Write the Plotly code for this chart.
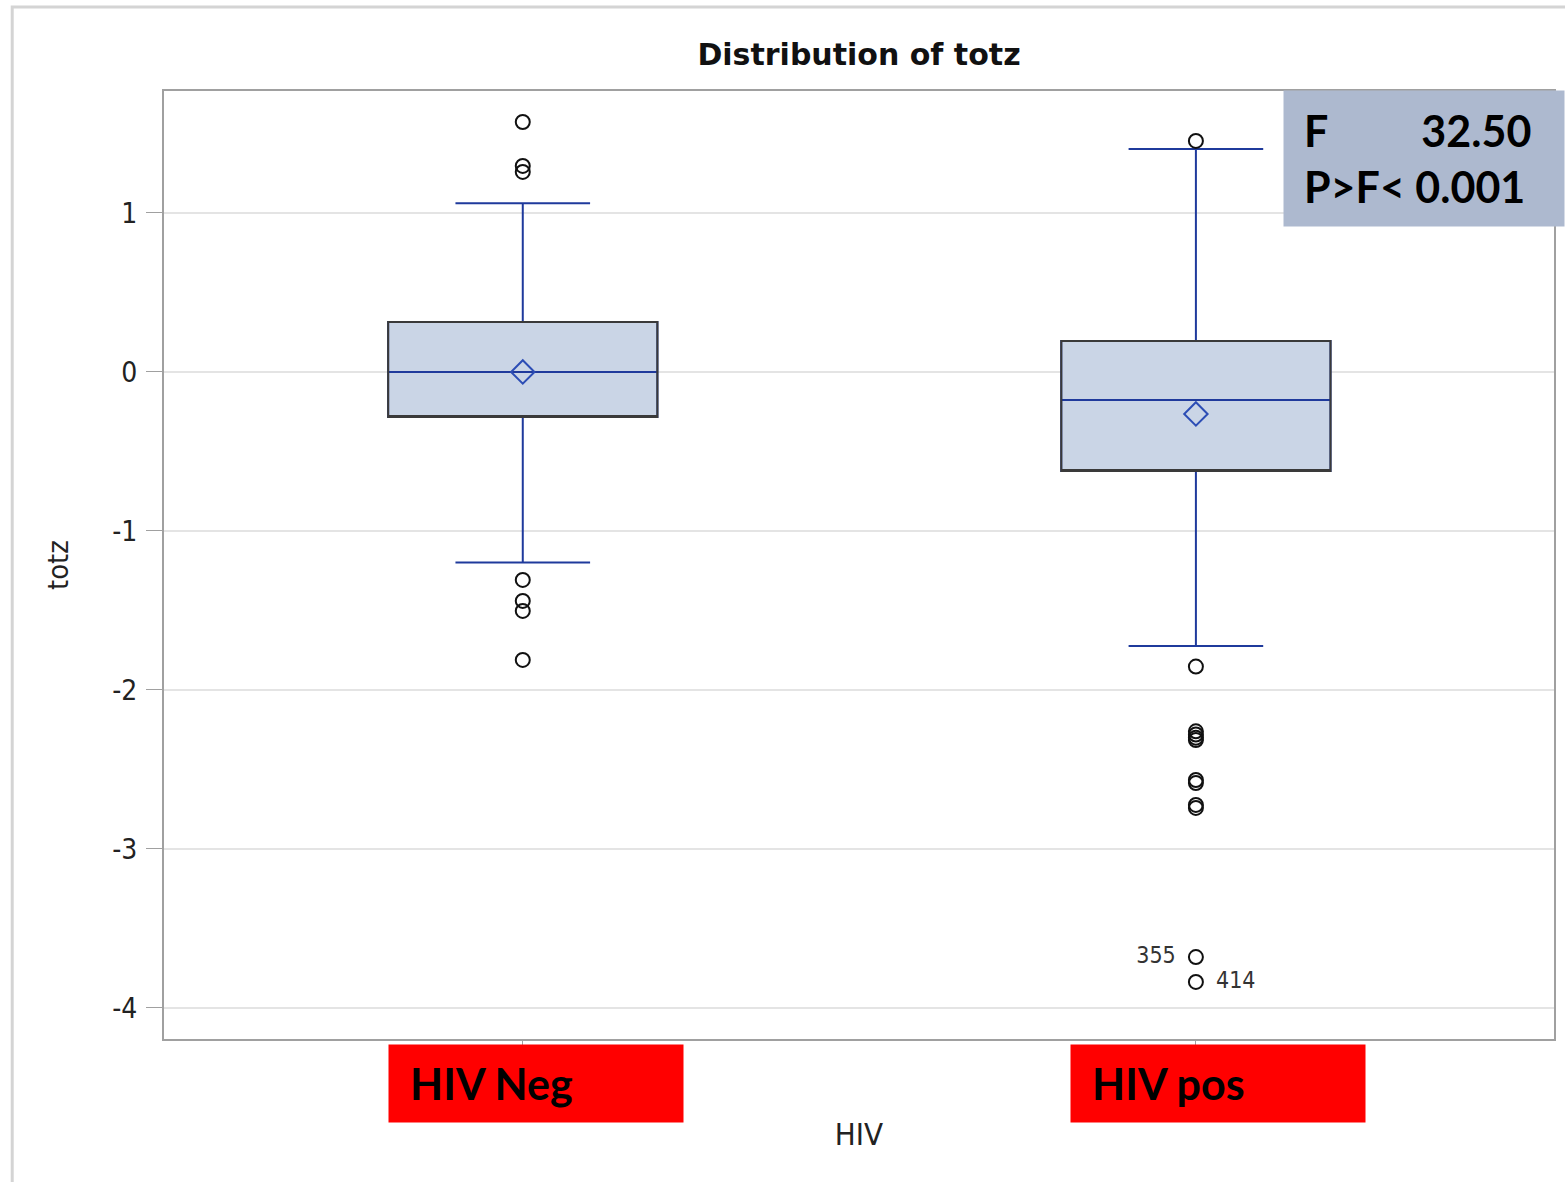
import plotly.graph_objects as go

# Summary statistics of totz by HIV status
groups = ["HIV Neg", "HIV pos"]
group_pos = [0, 1]
q1 = [-0.283, -0.623]
median = [0.0, -0.176]
q3 = [0.314, 0.195]
lower_whisker = [-1.199, -1.723]
upper_whisker = [1.061, 1.403]
means = [0.0, -0.264]

# Outlying observations
neg_outliers = [1.572, 1.296, 1.258, -1.308, -1.44, -1.503, -1.811]
pos_outliers = [1.453, -1.853, -2.26, -2.28, -2.30, -2.315, -2.566, -2.585, -2.723, -2.742]
pos_labelled = [-3.68, -3.836]
pos_labelled_ids = ["355\u2002", "\u2002414"]

# Model test result
f_value = "32.50"
p_text = "P&gt;F&lt; 0.001"

BLUE = "#1F3A9C"
FILL = "#CAD5E6"
BOX_W = 0.40
AXIS_FONT = "Liberation Sans Narrow, DejaVu Sans Condensed, Liberation Sans, Arial"

fig = go.Figure()

# Box with whiskers and median (blue)
fig.add_trace(go.Box(
    x=group_pos, q1=q1, median=median, q3=q3,
    lowerfence=lower_whisker, upperfence=upper_whisker,
    width=BOX_W, whiskerwidth=0.5,
    fillcolor=FILL, line=dict(color=BLUE, width=2),
    boxpoints=False, hoverinfo="skip", showlegend=False,
))
# Dark outline of the interquartile box
fig.add_trace(go.Box(
    x=group_pos, q1=q1, median=q1, q3=q3,
    lowerfence=q1, upperfence=q3,
    width=BOX_W, whiskerwidth=0,
    fillcolor="rgba(0,0,0,0)", line=dict(color="#3A3A3A", width=2),
    boxpoints=False, hoverinfo="skip", showlegend=False,
))

# Mean markers
fig.add_trace(go.Scatter(
    x=group_pos, y=means, mode="markers",
    marker=dict(symbol="diamond-open", size=18, color="#2C4DB5", line=dict(width=2)),
    showlegend=False, hoverinfo="skip",
))

outlier_marker = dict(symbol="circle-open", size=14, color="#111111", line=dict(width=2))
fig.add_trace(go.Scatter(
    x=[group_pos[0]] * len(neg_outliers), y=neg_outliers, mode="markers",
    marker=outlier_marker, showlegend=False, hoverinfo="skip",
))
fig.add_trace(go.Scatter(
    x=[group_pos[1]] * len(pos_outliers), y=pos_outliers, mode="markers",
    marker=outlier_marker, showlegend=False, hoverinfo="skip",
))
fig.add_trace(go.Scatter(
    x=[group_pos[1]] * len(pos_labelled), y=pos_labelled, mode="markers+text",
    text=pos_labelled_ids, textposition=["middle left", "middle right"],
    textfont=dict(family=AXIS_FONT, size=23, color="#333333"),
    marker=outlier_marker, showlegend=False, hoverinfo="skip",
))

fig.update_layout(
    width=1565, height=1182,
    margin=dict(l=164, r=9, t=91, b=143),
    paper_bgcolor="white", plot_bgcolor="white",
    boxmode="overlay",
    font=dict(family=AXIS_FONT, color="#111111"),
    title=dict(
        text="<b>Distribution of totz</b>",
        x=0.5489, xanchor="center", y=1 - 54 / 1182, yanchor="middle",
        font=dict(family="DejaVu Sans", size=30, color="#111111"),
    ),
    xaxis=dict(
        range=[-0.533, 1.532], tickvals=group_pos, ticktext=["", ""],
        ticks="outside", ticklen=6, tickcolor="#A0A0A0",
        showgrid=False, zeroline=False,
        showline=True, mirror=True, linecolor="#A0A0A0", linewidth=2,
        title=dict(text="HIV", font=dict(size=31, color="#222222"), standoff=75),
    ),
    yaxis=dict(
        range=[-4.195, 1.767], tickvals=[1, 0, -1, -2, -3, -4],
        ticktext=["1", "0", "-1", "-2", "-3", "-4"],
        ticks="outside", ticklen=16, tickcolor="#A0A0A0", ticklabelstandoff=3,
        tickfont=dict(size=28, color="#222222"),
        showgrid=True, gridcolor="#E4E4E4", gridwidth=2,
        zeroline=False,
        showline=True, mirror=True, linecolor="#A0A0A0", linewidth=2,
        title=dict(text="totz", font=dict(size=29, color="#222222"), standoff=35),
    ),
)

# Outer frame of the graph
fig.add_shape(type="rect", xref="paper", yref="paper",
              x0=-152 / 1392, x1=1.2, y0=-0.2, y1=1 + 84 / 948,
              line=dict(color="#D4D4D4", width=3), fillcolor="rgba(0,0,0,0)", layer="below")

# Red category labels
for xpos, name, shift in zip(group_pos, groups, [13, 22]):
    fig.add_annotation(
        x=xpos, xref="x", y=-5 / 948, yref="paper", yanchor="top",
        xshift=shift, text=f"&nbsp;<b>{name}</b>", showarrow=False,
        width=274, height=57, borderpad=10, align="left", valign="middle",
        bgcolor="#FF0000",
        font=dict(family="Lato, Open Sans", size=43, color="#000000"),
    )

# Test statistic box
fig.add_annotation(
    x=1121 / 1392, xref="paper", xanchor="left",
    y=1 + 1 / 948, yref="paper", yanchor="top",
    text=("<b>F" + "&nbsp;" * 9 + f"{f_value}</b><br><b>{p_text}</b>"),
    showarrow=False, align="left",
    width=240, height=95, borderpad=20,
    bgcolor="#ADB9CF",
    font=dict(family="Lato, Open Sans", size=43, color="#000000"),
)

fig.write_html("out.html")
